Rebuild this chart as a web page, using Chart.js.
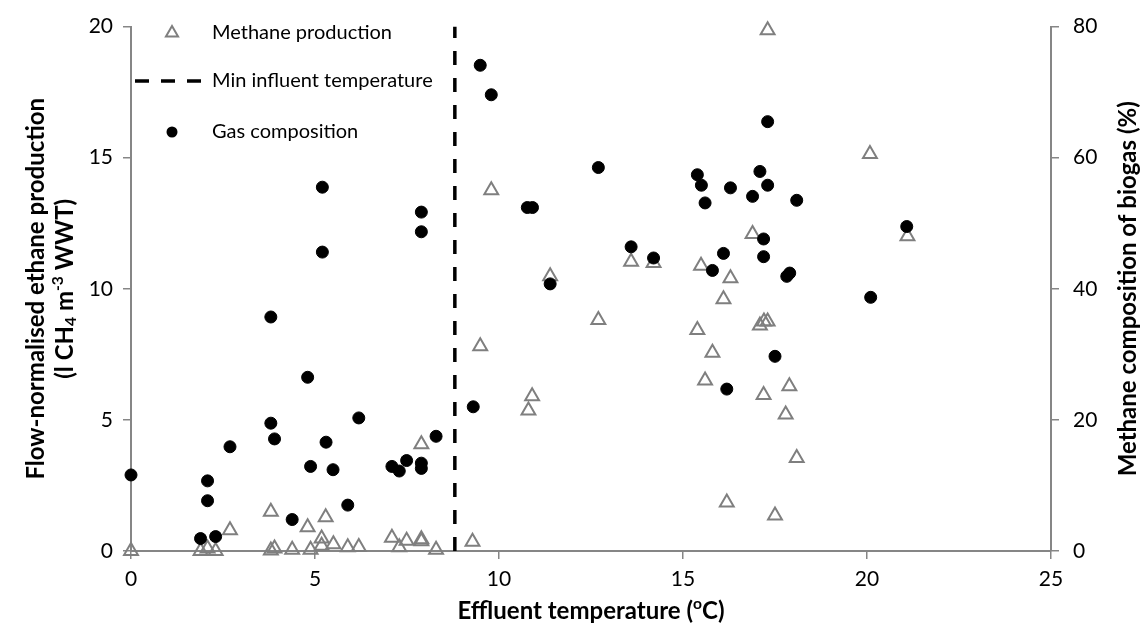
<!DOCTYPE html>
<html>
<head>
<meta charset="utf-8">
<script src="https://cdn.jsdelivr.net/npm/chart.js@4.4.1/dist/chart.umd.min.js"></script>
<style>
    body { margin: 0; background: #fff; }
    #wrap { width: 1148px; height: 644px; }
</style>
</head>
<body>
<div id="wrap"><canvas id="graphCanvas" width="1148" height="644"></canvas></div>
<script>
// Methane production (left axis) against effluent temperature
let prodTemp = [0, 1.89, 2.08, 2.3, 2.69, 3.8, 3.8, 3.9, 4.38, 4.8, 4.88, 5.18, 5.18, 5.29, 5.5, 5.89, 6.19,
    7.09, 7.29, 7.49, 7.89, 7.89, 7.89, 8.29, 9.28, 9.49, 9.79, 10.8, 10.9, 11.39, 12.7, 13.59, 14.2,
    15.39, 15.49, 15.6, 15.8, 16.1, 16.19, 16.29, 16.89, 17.09, 17.19, 17.2, 17.3, 17.3, 17.5, 17.79,
    17.89, 18.09, 20.08, 21.1];
let prodValue = [0, 0, 0.1, 0, 0.79, 1.5, 0.02, 0.1, 0.05, 0.91, 0.05, 0.48, 0.2, 1.29, 0.26, 0.14, 0.15,
    0.51, 0.14, 0.39, 4.07, 0.45, 0.37, 0.05, 0.35, 7.81, 13.76, 5.36, 5.9, 10.48, 8.81, 11.03, 10.98,
    8.43, 10.88, 6.5, 7.56, 9.6, 1.85, 10.4, 12.09, 8.6, 5.95, 8.75, 8.75, 19.86, 1.35, 5.21,
    6.28, 3.55, 15.14, 12.0];

// Gas composition (right axis, %)
let gasTemp = [0, 1.89, 2.08, 2.08, 2.3, 2.69, 3.8, 3.8, 3.9, 4.38, 4.8, 4.88, 5.2, 5.2, 5.3, 5.49, 5.89,
    6.19, 7.09, 7.29, 7.49, 7.89, 7.89, 7.89, 7.89, 8.29, 9.3, 9.49, 9.79, 10.77, 10.91, 11.39, 12.7,
    13.59, 14.2, 15.39, 15.5, 15.6, 15.8, 16.1, 16.19, 16.29, 16.89, 17.09, 17.19, 17.19, 17.3, 17.3,
    17.5, 17.82, 17.9, 18.09, 20.1, 21.08];
let gasValue = [11.6, 1.9, 10.7, 7.67, 2.2, 15.9, 35.7, 19.5, 17.1, 4.8, 26.5, 12.9, 55.5, 45.6, 16.6, 12.4, 7.0,
    20.3, 12.9, 12.2, 13.8, 51.7, 48.7, 13.4, 12.6, 17.5, 22.0, 74.1, 69.6, 52.4, 52.4, 40.75, 58.5,
    46.4, 44.7, 57.4, 55.8, 53.1, 42.8, 45.4, 24.7, 55.4, 54.1, 57.9, 47.6, 44.9, 65.5, 55.8,
    29.7, 41.9, 42.4, 53.5, 38.7, 49.5];

let minInfluentTemp = 8.8;

let xRange = [0, 25, 5];
let leftRange = [0, 20, 5];
let rightRange = [0, 80, 20];

let legendLabels = ['Methane production', 'Min influent temperature', 'Gas composition'];
let xTitle = 'Effluent temperature (';
let leftTitle1 = 'Flow-normalised ethane production';
let rightTitle = 'Methane composition of biogas (%)';

const FONT = 'Lato, "Open Sans", sans-serif';
const GREY = '#7f7f7f';
const AXIS = '#868686';

function drawRich(ctx, parts, x, y, rot, size) {
    ctx.save();
    ctx.translate(x, y);
    ctx.rotate(rot);
    ctx.textBaseline = 'middle';
    ctx.fillStyle = '#000';
    let w = 0;
    parts.forEach(p => {
        ctx.font = 'bold ' + (p.s ? size * 0.65 : size) + 'px ' + FONT;
        p.w = ctx.measureText(p.t).width;
        w += p.w;
    });
    let cx = -w / 2;
    parts.forEach(p => {
        ctx.font = 'bold ' + (p.s ? size * 0.65 : size) + 'px ' + FONT;
        let dy = p.s === 'sup' ? -size * 0.3 : (p.s === 'sub' ? size * 0.25 : 0);
        ctx.fillText(p.t, cx, dy);
        cx += p.w;
    });
    ctx.restore();
}

const titlesAndLegend = {
    id: 'titlesAndLegend',
    afterDraw(chart) {
        let ctx = chart.ctx;
        let area = chart.chartArea;
        let midY = (area.top + area.bottom) / 2;

        drawRich(ctx, [{t: xTitle}, {t: 'o', s: 'sup'}, {t: 'C)'}], (area.left + area.right) / 2, 611, 0, 24);
        drawRich(ctx, [{t: leftTitle1}], 36, midY, -Math.PI / 2, 24);
        drawRich(ctx, [{t: '(l CH'}, {t: '4', s: 'sub'}, {t: ' m'}, {t: '-3', s: 'sup'}, {t: ' WWT)'}], 65, midY, -Math.PI / 2, 24);
        drawRich(ctx, [{t: rightTitle}], 1128, midY, -Math.PI / 2, 24);

        // legend inside the plot area
        ctx.save();
        ctx.font = '20px ' + FONT;
        ctx.textBaseline = 'middle';
        ctx.fillStyle = '#000';
        let rows = [33, 81, 132];
        let tx = 212;

        ctx.strokeStyle = GREY;
        ctx.lineWidth = 2;
        ctx.beginPath();
        let r = 7;
        ctx.moveTo(172, rows[0] - r);
        ctx.lineTo(172 + r * 0.866, rows[0] + r / 2);
        ctx.lineTo(172 - r * 0.866, rows[0] + r / 2);
        ctx.closePath();
        ctx.stroke();

        ctx.strokeStyle = '#000';
        ctx.lineWidth = 3.5;
        ctx.setLineDash([14, 12]);
        ctx.beginPath();
        ctx.moveTo(135, rows[1]);
        ctx.lineTo(202, rows[1]);
        ctx.stroke();
        ctx.setLineDash([]);

        ctx.fillStyle = '#000';
        ctx.beginPath();
        ctx.arc(172, rows[2], 5.5, 0, Math.PI * 2);
        ctx.fill();

        legendLabels.forEach((label, i) => ctx.fillText(label, tx, rows[i]));
        ctx.restore();
    }
};

function axisStyle(pos) {
    return {
        grid: { display: true, drawOnChartArea: false, drawTicks: true, tickLength: 8, color: AXIS, lineWidth: 1.5 },
        border: { display: true, color: AXIS, width: 2 },
        ticks: { color: '#000', font: { family: FONT, size: 21 }, padding: pos === 'x' ? 8 : 10 }
    };
}

let xScale = axisStyle('x');
xScale.type = 'linear';
xScale.min = xRange[0];
xScale.max = xRange[1];
xScale.ticks.stepSize = xRange[2];
xScale.afterFit = s => { s.height = 93; };

let yScale = axisStyle('y');
yScale.position = 'left';
yScale.min = leftRange[0];
yScale.max = leftRange[1];
yScale.ticks.stepSize = leftRange[2];
yScale.afterFit = s => { s.width = 131; };

let y2Scale = axisStyle('y');
y2Scale.position = 'right';
y2Scale.min = rightRange[0];
y2Scale.max = rightRange[1];
y2Scale.ticks.stepSize = rightRange[2];
y2Scale.ticks.padding = 14;
y2Scale.afterFit = s => { s.width = 97; };

let ctx = document.getElementById('graphCanvas').getContext('2d');
let chart = new Chart(ctx, {
    type: 'scatter',
    data: {
        datasets: [{
            label: legendLabels[2],
            data: gasTemp.map((t, i) => ({x: t, y: gasValue[i]})),
            yAxisID: 'y2',
            pointStyle: 'circle',
            pointRadius: 6,
            pointBorderWidth: 1,
            backgroundColor: '#000',
            borderColor: '#000',
            clip: false,
            order: 1
        }, {
            label: legendLabels[1],
            data: [{x: minInfluentTemp, y: leftRange[0]}, {x: minInfluentTemp, y: leftRange[1]}],
            yAxisID: 'y',
            showLine: true,
            borderColor: '#000',
            borderWidth: 3.5,
            borderDash: [14, 13],
            pointRadius: 0,
            order: 2
        }, {
            label: legendLabels[0],
            data: prodTemp.map((t, i) => ({x: t, y: prodValue[i]})),
            yAxisID: 'y',
            pointStyle: 'triangle',
            pointRadius: 8,
            pointBorderWidth: 2,
            backgroundColor: 'rgba(0,0,0,0)',
            borderColor: GREY,
            clip: false,
            order: 3
        }]
    },
    options: {
        responsive: false,
        animation: false,
        layout: { padding: { top: 19, left: 0, right: 0, bottom: 0 } },
        plugins: { legend: { display: false }, tooltip: { enabled: false } },
        scales: { x: xScale, y: yScale, y2: y2Scale }
    },
    plugins: [titlesAndLegend]
});
</script>
</body>
</html>
